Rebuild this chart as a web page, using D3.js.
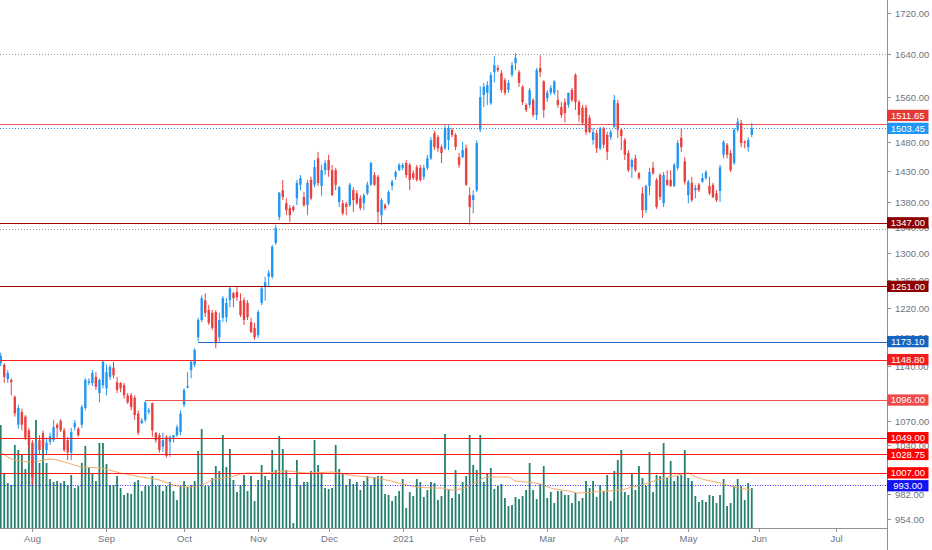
<!DOCTYPE html>
<html><head><meta charset="utf-8">
<script src="https://cdn.jsdelivr.net/npm/d3@7/dist/d3.min.js"></script>
<style>
html,body{margin:0;padding:0;background:#fff;overflow:hidden}
svg{display:block}
text{font-family:"Liberation Sans",Arial,sans-serif}
</style>
</head><body>
<svg id="chart" width="932" height="550"></svg>
<script>
// ---------- DATA ----------
const open = [1144,1142,1123,1122,1100,1065,1081,1075,1058,1043,1022,1046,1052,1034,1044,1046,1065,1070,1058,1046,
1031,1062,1060,1065,1086,1118,1118,1126,1105,1115,1111,1126,1138,1119,1118,1115,1102,1102,1099,1079,
1067,1071,1081,1092,1055,1052,1038,1050,1044,1049,1052,1056,1090,1112,1135,1142,1179,1203,1231,1217,
1213,1214,1179,1206,1207,1231,1241,1243,1230,1231,1227,1200,1192,1182,1227,1250,1265,1265,1316,1356,
1399,1378,1370,1372,1386,1408,1388,1375,1416,1408,1452,1406,1432,1449,1432,1432,1380,1378,1377,1375,
1399,1394,1386,1378,1394,1408,1424,1421,1359,1375,1378,1406,1421,1432,1436,1444,1441,1427,1437,1436,
1421,1436,1452,1495,1488,1471,1469,1483,1501,1492,1454,1454,1469,1391,1383,1399,1501,1563,1567,1548,
1605,1613,1603,1590,1572,1600,1622,1605,1578,1545,1545,1554,1527,1613,1588,1557,1567,1567,1554,1541,
1550,1545,1572,1600,1550,1540,1540,1522,1483,1495,1469,1504,1492,1488,1506,1548,1501,1483,1461,1437,
1452,1427,1394,1367,1406,1436,1416,1424,1378,1416,1416,1406,1436,1487,1447,1391,1411,1399,1408,1413,
1419,1406,1408,1394,1398,1458,1475,1461,1444,1501,1513,1480,1471,1492];
const high = [1158,1144,1135,1124,1102,1090,1085,1077,1061,1046,1046,1052,1058,1049,1055,1071,1067,1072,1061,1050,
1061,1071,1062,1090,1124,1124,1135,1132,1124,1148,1142,1142,1146,1126,1119,1118,1105,1105,1102,1083,
1073,1095,1086,1093,1056,1055,1055,1052,1052,1052,1065,1083,1111,1132,1148,1164,1206,1238,1241,1224,
1217,1217,1213,1237,1234,1250,1243,1250,1241,1235,1231,1206,1199,1217,1250,1265,1275,1313,1344,1396,
1416,1386,1375,1375,1416,1424,1396,1416,1421,1449,1463,1441,1449,1458,1441,1436,1406,1383,1380,1411,
1404,1399,1391,1394,1413,1446,1429,1424,1386,1378,1399,1416,1432,1444,1444,1449,1444,1432,1441,1441,
1441,1458,1488,1499,1492,1475,1509,1509,1504,1495,1461,1480,1475,1404,1399,1483,1579,1585,1588,1605,
1635,1618,1609,1594,1590,1624,1641,1609,1581,1548,1576,1557,1613,1637,1590,1572,1581,1590,1572,1550,
1557,1567,1576,1603,1554,1545,1545,1527,1504,1501,1506,1506,1497,1501,1563,1554,1504,1487,1466,1452,
1458,1429,1404,1408,1436,1446,1419,1427,1429,1432,1432,1444,1483,1504,1454,1416,1421,1408,1411,1427,
1432,1421,1411,1399,1441,1483,1478,1466,1504,1522,1518,1483,1488,1513];
const low = [1140,1118,1118,1102,1075,1060,1058,1046,1034,993,1013,1028,1034,1028,1040,1044,1049,1056,1032,1022,
1022,1058,1050,1061,1083,1115,1114,1109,1093,1111,1102,1122,1124,1105,1106,1098,1091,1083,1071,1052,
1066,1068,1078,1050,1043,1031,1032,1025,1026,1043,1050,1052,1087,1111,1124,1139,1173,1200,1207,1196,
1189,1164,1173,1200,1200,1221,1221,1230,1207,1196,1203,1185,1175,1178,1224,1230,1250,1262,1313,1351,
1383,1359,1348,1364,1375,1399,1372,1359,1383,1404,1406,1390,1424,1421,1390,1399,1372,1359,1359,1372,
1364,1375,1367,1367,1391,1406,1406,1347,1344,1367,1375,1399,1416,1431,1432,1419,1399,1416,1413,1413,
1416,1432,1449,1466,1463,1444,1466,1466,1488,1466,1436,1452,1406,1344,1362,1396,1497,1541,1545,1545,
1586,1605,1567,1563,1567,1596,1609,1578,1545,1532,1540,1523,1518,1596,1522,1550,1563,1563,1540,1522,
1514,1540,1550,1536,1515,1509,1492,1495,1475,1461,1466,1469,1449,1483,1504,1487,1466,1449,1429,1419,
1429,1416,1355,1362,1391,1424,1369,1383,1372,1406,1404,1404,1432,1463,1408,1378,1380,1386,1396,1411,
1416,1391,1386,1380,1380,1452,1452,1429,1441,1497,1471,1469,1463,1488];
const close = [1154,1126,1131,1119,1079,1086,1065,1049,1040,1001,1043,1034,1038,1043,1051,1062,1061,1058,1034,1031,
1056,1067,1052,1087,1122,1120,1131,1113,1122,1146,1132,1139,1128,1109,1111,1102,1093,1087,1077,1055,
1070,1093,1083,1058,1046,1034,1046,1027,1050,1052,1062,1079,1109,1114,1146,1162,1203,1234,1213,1199,
1192,1171,1203,1234,1227,1248,1234,1235,1210,1203,1207,1186,1179,1214,1248,1257,1271,1310,1339,1395,
1388,1367,1359,1367,1411,1419,1375,1411,1386,1437,1411,1432,1444,1432,1391,1408,1404,1362,1372,1408,
1383,1378,1370,1391,1408,1444,1408,1364,1383,1370,1396,1413,1429,1441,1441,1424,1416,1419,1416,1416,
1436,1452,1483,1471,1469,1461,1504,1504,1492,1471,1441,1466,1408,1372,1391,1478,1559,1578,1581,1600,
1618,1609,1572,1567,1585,1618,1632,1585,1550,1536,1572,1527,1609,1605,1536,1567,1576,1588,1545,1527,
1530,1567,1554,1550,1527,1513,1497,1497,1497,1469,1504,1475,1463,1497,1554,1501,1490,1458,1432,1449,
1432,1419,1367,1406,1429,1427,1372,1388,1424,1408,1406,1441,1478,1471,1413,1413,1383,1403,1399,1419,
1429,1394,1388,1383,1437,1480,1458,1432,1501,1515,1478,1478,1483,1503.45];
const volume = [103,55,45,43,83,78,74,59,97,71,108,65,95,65,49,46,47,45,47,43,
53,40,42,65,82,61,55,47,85,85,64,43,43,52,40,33,35,34,46,48,
37,42,42,52,42,43,37,42,46,37,28,42,47,41,43,47,77,99,42,42,
50,62,57,93,61,79,48,36,43,53,37,52,27,48,63,52,48,78,58,92,
79,58,50,5,68,43,46,46,57,88,63,56,40,39,40,83,59,55,43,49,
44,46,38,47,52,43,51,52,52,34,33,27,32,37,49,20,36,32,49,46,
31,38,46,45,28,32,94,39,30,58,34,46,52,93,63,58,93,46,55,60,
39,42,44,30,22,23,31,29,32,38,65,38,29,44,62,30,36,25,37,37,
33,33,25,35,27,30,47,40,47,31,43,37,53,27,57,68,78,36,33,55,
38,62,50,42,76,36,53,52,85,50,67,47,52,53,78,50,47,32,26,28,
26,33,32,25,33,49,22,25,42,49,42,28,45,40];
const volMaIdx = [0,4,9,14,19,23,28,34,40,45,49,53,57,60,65,70,75,81,87,94,99,104,108,113,118,123,125,128,132,135,
138,141,144,146,149,153,156,161,164,168,172,176,179,182,186,191,195,196,200,204,208,213];
const volMaVal = [76,68,66,69,65,61,60,55,51,48,43,41,43,48,51,55,55,57,55,56,53,51,49,45,41,40,40,38,41,46,
51,51,51,47,46,44,40,37,35,36,37,38,41,43,48,52,55,53,48,45,41,38];
const monthLabels = ["Aug","Sep","Oct","Nov","Dec","2021","Feb","Mar","Apr","May","Jun","Jul"];
const monthTickIdx = [9,30,52,73,93,114,135,155,176,195,215,237];
const priceTicks = [1720,1640,1560,1480,1430,1380,1340,1300,1260,1220,1180,1140,1070,1040,982,954];
const levelPrices = [1511.65,1503.45,1347.00,1251.00,1173.10,1148.80,1096.00,1049.00,1028.75,1007.00,993.00];
const levelStartIdx = [0,0,0,0,56,0,41,0,0,0,0];
const guidePrices = [1640,1337];
const currentLevel = 1; // index of last-price level

// ---------- STYLE ----------
const levelColor = ["#e53935","#2196f3","#8e0000","#8e0000","#1565c0","#f21c1c","#ef4a4a","#ff0000","#ff0000","#ff0000","#1212f5"];
const levelLine  = ["#e25555","#2196f3","#a30000","#a30000","#2266cc","#ff2020","#f05050","#ff1a1a","#ff1a1a","#ff1a1a","#3030ff"];
const levelDash  = [null,"1,2",null,null,null,null,null,null,null,null,"1,1.5"];
const UP="#2196f3", DOWN="#ec3f3f", VOL="#24806e", MA="#f4a86a", AXIS="#8d9099", TXT="#70747f";

const W=932,H=550, plotR=887, plotB=528;
const svg=d3.select("#chart");
svg.append("rect").attr("width",W).attr("height",H).attr("fill","#fff");

const x=d3.scaleLinear().domain([0,237]).range([0.7,836.4]);
const y=d3.scaleLog().domain([954,1720]).range([519.3,12.7]);
const yv=d3.scaleLinear().domain([0,108]).range([plotB,420]);

svg.append("clipPath").attr("id","plot").append("rect").attr("x",0).attr("y",0).attr("width",plotR).attr("height",plotB);
const g=svg.append("g").attr("clip-path","url(#plot)");

const idx=d3.range(open.length);
const step=x(1)-x(0);

// volume bars
const vbw=1.8;
g.append("g").selectAll("rect").data(idx).join("rect")
  .attr("x",i=>x(i)-vbw/2).attr("width",vbw)
  .attr("y",i=>yv(volume[i])).attr("height",i=>plotB-yv(volume[i]))
  .attr("fill",VOL);

// volume moving average
g.append("path").datum(d3.range(volMaIdx.length))
  .attr("d",d3.line().x(j=>x(volMaIdx[j])).y(j=>yv(volMaVal[j])).curve(d3.curveMonotoneX))
  .attr("fill","none").attr("stroke",MA).attr("stroke-width",1);

// guide dotted lines
g.append("g").selectAll("line").data(guidePrices).join("line")
  .attr("x1",0).attr("x2",plotR).attr("y1",d=>Math.round(y(d))+0.5).attr("y2",d=>Math.round(y(d))+0.5)
  .attr("stroke","#9598a1").attr("stroke-width",1).attr("stroke-dasharray","1,2");

// candles
const cg=g.append("g");
const bw=2.4;
cg.selectAll("line").data(idx).join("line")
  .attr("x1",i=>x(i)).attr("x2",i=>x(i))
  .attr("y1",i=>y(high[i])).attr("y2",i=>y(low[i]))
  .attr("stroke",i=>close[i]>=open[i]?UP:DOWN).attr("stroke-width",1);
cg.selectAll("rect").data(idx).join("rect")
  .attr("x",i=>x(i)-bw/2).attr("width",bw)
  .attr("y",i=>y(Math.max(open[i],close[i])))
  .attr("height",i=>Math.max(1,y(Math.min(open[i],close[i]))-y(Math.max(open[i],close[i]))))
  .attr("fill",i=>close[i]>=open[i]?UP:DOWN);

// level lines
g.append("g").selectAll("line").data(d3.range(levelPrices.length)).join("line")
  .attr("x1",k=>levelStartIdx[k]>0?x(levelStartIdx[k]):0).attr("x2",plotR)
  .attr("y1",k=>Math.round(y(levelPrices[k]))+0.5).attr("y2",k=>Math.round(y(levelPrices[k]))+0.5)
  .attr("stroke",k=>levelLine[k]).attr("stroke-width",1)
  .attr("stroke-dasharray",k=>levelDash[k]);

// axes lines
svg.append("line").attr("x1",plotR+0.5).attr("x2",plotR+0.5).attr("y1",0).attr("y2",H).attr("stroke",AXIS);
svg.append("line").attr("x1",0).attr("x2",plotR).attr("y1",plotB+0.5).attr("y2",plotB+0.5).attr("stroke",AXIS);

// price ticks
const pt=svg.append("g");
priceTicks.forEach(v=>{
  const yy=Math.round(y(v))+0.5;
  pt.append("line").attr("x1",plotR).attr("x2",plotR+4).attr("y1",yy).attr("y2",yy).attr("stroke",AXIS);
  pt.append("text").attr("x",895).attr("y",yy).attr("dy","0.35em").attr("font-size",9.5).attr("fill",TXT).text(d3.format(".2f")(v));
});

// month ticks
const mt=svg.append("g");
monthTickIdx.forEach((t,k)=>{
  const xx=Math.round(x(t))+0.5;
  mt.append("line").attr("x1",xx).attr("x2",xx).attr("y1",plotB).attr("y2",plotB+4).attr("stroke",AXIS);
  mt.append("text").attr("x",xx).attr("y",539).attr("dy","0.35em").attr("text-anchor","middle")
    .attr("font-size",9.5).attr("fill",TXT).text(monthLabels[k]);
});

// level labels with collision avoidance
const LH=11.3, GAP=1.6;
const pos=levelPrices.map(p=>y(p));
const order=d3.range(levelPrices.length).sort((a,b)=>pos[a]-pos[b]);
const ci=order.indexOf(currentLevel);
for(let j=ci-1;j>=0;j--){const a=order[j],b=order[j+1];if(pos[b]-pos[a]<LH+GAP)pos[a]=pos[b]-LH-GAP;}
for(let j=ci+1;j<order.length;j++){const a=order[j],b=order[j-1];if(pos[a]-pos[b]<LH+GAP)pos[a]=pos[b]+LH+GAP;}
const lg=svg.append("g");
levelPrices.forEach((p,k)=>{
  lg.append("rect").attr("x",plotR).attr("y",pos[k]-LH/2).attr("width",41.5).attr("height",LH).attr("fill",levelColor[k]);
  lg.append("text").attr("x",plotR+20.8).attr("y",pos[k]).attr("dy","0.36em").attr("text-anchor","middle")
    .attr("font-size",9.5).attr("fill","#fff").text(d3.format(".2f")(p));
});
</script>
</body></html>
